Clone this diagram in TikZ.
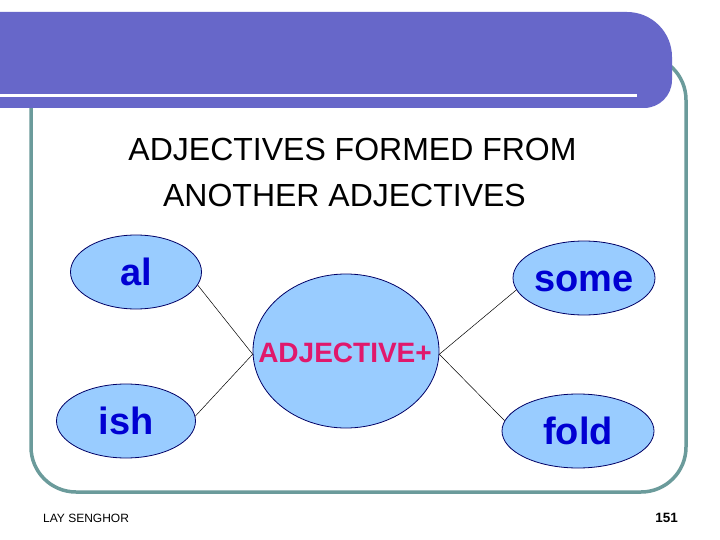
\documentclass[tikz,border=0pt]{standalone}
\usepackage{fontspec}
\setmainfont{Liberation Sans}
\usetikzlibrary{shapes.geometric}
\definecolor{bannercol}{RGB}{103,103,201}
\definecolor{framecol}{RGB}{107,155,155}
\definecolor{ellfill}{RGB}{153,204,255}
\definecolor{elldraw}{RGB}{0,0,102}
\definecolor{suffixcol}{RGB}{0,0,210}
\definecolor{pinkcol}{RGB}{224,24,108}
\tikzset{
  suffix/.style={ellipse, draw=elldraw, line width=0.8pt, fill=ellfill, inner sep=0pt,
    text=suffixcol, font=\fontsize{38}{44}\selectfont\bfseries,
    text height=27.5pt, text depth=0pt},
  hub/.style={ellipse, draw=elldraw, line width=0.8pt, fill=ellfill, inner sep=0pt},
  hubtext/.style={inner sep=0pt, text=pinkcol, font=\fontsize{28}{32}\selectfont\bfseries,
    text height=20pt, text depth=0pt},
  link/.style={black, line width=0.5pt},
  titletext/.style={anchor=base, inner sep=0pt, font=\fontsize{32}{38}\selectfont}
}
\begin{document}
\begin{tikzpicture}[x=1pt, y=-1pt]
\useasboundingbox[fill=white] (0,0) rectangle (720,540);
% frame
\draw[framecol, line width=3.5pt, rounded corners=45pt] (31,55) rectangle (686,492);
% banner
\fill[bannercol] (-1,12) -- (627,12) arc[start angle=-90, end angle=0, radius=45]
  -- (672,80) arc[start angle=0, end angle=90, radius=28] -- (-1,108) -- cycle;
\draw[white, line width=3pt] (-1,95.5) -- (637,95.5);
% title
\node[titletext] (t1) at (352.5,161) {ADJECTIVES FORMED FROM};
\node[titletext] (t2) at (344.5,207) {ANOTHER ADJECTIVES};
% ellipses
\node[hub, minimum width=186pt, minimum height=154pt] (hub) at (346,351) {};
\node[hubtext] (hublabel) at (345,352) {ADJECTIVE+};
\node[suffix, minimum width=131pt, minimum height=74pt] (al) at (136,272) {al};
\node[suffix, minimum width=139pt, minimum height=74pt] (ish) at (126,421) {ish};
\node[suffix, minimum width=142pt, minimum height=74pt] (some) at (584,278) {some};
\node[suffix, minimum width=152pt, minimum height=74pt] (fold) at (578,431) {fold};
% connectors
\draw[link] (al.-12) -- (hub.182);
\draw[link] (ish.4) -- (hub.182);
\draw[link] (some.190) -- (hub.-2);
\draw[link] (fold.172) -- (hub.-2);
% footer
\node[anchor=base west, inner sep=0pt, font=\fontsize{12}{14}\selectfont] (author) at (43,522) {LAY SENGHOR};
\node[anchor=base east, inner sep=0pt, font=\fontsize{13.5}{16}\selectfont\bfseries] (page) at (678,522) {151};
\end{tikzpicture}
\end{document}
